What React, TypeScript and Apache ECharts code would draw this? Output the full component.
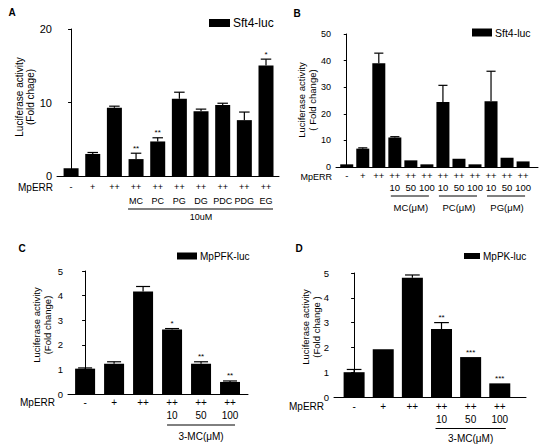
import { useEffect, useRef } from "react";
import * as echarts from "echarts";

const FONT = "'Liberation Sans', Arial, Helvetica, sans-serif";

// ---------- Panel A : Sft4-luc ----------
const A_ROW1 = ["-", "+", "++", "++", "++", "++", "++", "++", "++", "++"];
const A_ROW2 = ["", "", "", "MC", "PC", "PG", "DG", "PDC", "PDG", "EG"];
const A_VALUES = [1.05, 3.0, 9.3, 2.3, 4.7, 10.5, 8.8, 9.65, 7.6, 15.05];
const A_ERRORS = [0, 0.2, 0.2, 0.8, 0.5, 0.9, 0.3, 0.25, 1.1, 0.85];
const A_STARS = ["", "", "", "**", "**", "", "", "", "", "*"];
const A_GROUPS = [{ label: "10uM", from: 3, to: 9 }];

// ---------- Panel B : Sft4-luc ----------
const B_ROW1 = ["-", "+", "++", "++", "++", "++", "++", "++", "++", "++", "++", "++"];
const B_ROW2 = ["", "", "", "10", "50", "100", "10", "50", "100", "10", "50", "100"];
const B_VALUES = [1.0, 6.9, 39.0, 11.1, 2.5, 1.0, 24.4, 3.1, 1.0, 24.7, 3.5, 2.1];
const B_ERRORS = [0, 0.3, 3.8, 0.3, 0, 0, 6.3, 0, 0, 11.3, 0, 0];
const B_STARS = ["", "", "", "", "", "", "", "", "", "", "", ""];
const B_GROUPS = [
  { label: "MC(\u03bcM)", from: 3, to: 5 },
  { label: "PC(\u03bcM)", from: 6, to: 8 },
  { label: "PG(\u03bcM)", from: 9, to: 11 },
];

// ---------- Panel C : MpPFK-luc ----------
const C_ROW1 = ["-", "+", "++", "++", "++", "++"];
const C_ROW2 = ["", "", "", "10", "50", "100"];
const C_VALUES = [1.03, 1.23, 4.17, 2.62, 1.23, 0.49];
const C_ERRORS = [0.03, 0.08, 0.2, 0.04, 0.08, 0.04];
const C_STARS = ["", "", "", "*", "**", "**"];
const C_GROUPS = [{ label: "3-MC(\u03bcM)", from: 3, to: 5 }];

// ---------- Panel D : MpPK-luc ----------
const D_ROW1 = ["-", "+", "++", "++", "++", "++"];
const D_ROW2 = ["", "", "", "10", "50", "100"];
const D_VALUES = [1.0, 1.93, 4.81, 2.74, 1.61, 0.55];
const D_ERRORS = [0.11, 0, 0.11, 0.26, 0, 0];
const D_STARS = ["", "", "", "**", "***", "***"];
const D_GROUPS = [{ label: "3-MC(\u03bcM)", from: 3, to: 5 }];

type Group = { label: string; from: number; to: number };
type Panel = {
  letter: string;
  legendName: string;
  yTitle: string;
  yMax: number;
  yInterval: number;
  row1: string[];
  row2: string[];
  values: number[];
  errors: number[];
  stars: string[];
  groups: Group[];
  grid: { left: number; top: number; width: number; height: number };
  xMin: number;
  xMax: number;
  barWidth: number;
  tickFont: number;
  rowFont: number;
  legendFont: number;
  titleFont: number;
  offRow1: number;
  offRow2: number;
  offLine: number;
  offGroup: number;
  padL: number;
  padR: number;
  mpErr: { x: number; y: number; size: number };
  legendPos: { left: number; top: number; w: number; h: number };
  titlePos: { x: number; y: number };
  letterPos: { x: number; y: number };
};

const PANELS: Panel[] = [
  {
    letter: "A", legendName: "Sft4-luc", yTitle: "Luciferase activity\n(Fold chage)",
    yMax: 20, yInterval: 10,
    row1: A_ROW1, row2: A_ROW2, values: A_VALUES, errors: A_ERRORS, stars: A_STARS, groups: A_GROUPS,
    grid: { left: 57, top: 29, width: 222, height: 147 },
    xMin: -0.65, xMax: 9.6, barWidth: 15,
    tickFont: 11, rowFont: 9, legendFont: 12, titleFont: 10,
    offRow1: 11, offRow2: 24.5, offLine: 33, offGroup: 40.5, padL: 8, padR: 7,
    mpErr: { x: 53, y: 187, size: 10 },
    legendPos: { left: 209, top: 17, w: 21, h: 8 },
    titlePos: { x: 25, y: 97 },
    letterPos: { x: 12, y: 12 },
  },
  {
    letter: "B", legendName: "Sft4-luc", yTitle: "Luciferase activity\n( Fold change)",
    yMax: 50, yInterval: 10,
    row1: B_ROW1, row2: B_ROW2, values: B_VALUES, errors: B_ERRORS, stars: B_STARS, groups: B_GROUPS,
    grid: { left: 336, top: 34, width: 202, height: 133 },
    xMin: -0.67, xMax: 11.93, barWidth: 13,
    tickFont: 9, rowFont: 9.5, legendFont: 10.5, titleFont: 9.5,
    offRow1: 8.5, offRow2: 20, offLine: 29, offGroup: 40, padL: 4, padR: 2,
    mpErr: { x: 332, y: 176.5, size: 9 },
    legendPos: { left: 472, top: 27, w: 20, h: 8 },
    titlePos: { x: 307, y: 100 },
    letterPos: { x: 297, y: 13 },
  },
  {
    letter: "C", legendName: "MpPFK-luc", yTitle: "Luciferase activity\n(Fold change)",
    yMax: 5, yInterval: 1,
    row1: C_ROW1, row2: C_ROW2, values: C_VALUES, errors: C_ERRORS, stars: C_STARS, groups: C_GROUPS,
    grid: { left: 68, top: 271, width: 180, height: 123 },
    xMin: -0.59, xMax: 5.62, barWidth: 20,
    tickFont: 9.5, rowFont: 10, legendFont: 10, titleFont: 9.5,
    offRow1: 8.5, offRow2: 21, offLine: 31, offGroup: 42, padL: 5, padR: 5,
    mpErr: { x: 55, y: 402, size: 10 },
    legendPos: { left: 177, top: 251, w: 20, h: 7 },
    titlePos: { x: 42, y: 325 },
    letterPos: { x: 22, y: 248 },
  },
  {
    letter: "D", legendName: "MpPK-luc", yTitle: "Luciferase activity\n(Fold change )",
    yMax: 5, yInterval: 1,
    row1: D_ROW1, row2: D_ROW2, values: D_VALUES, errors: D_ERRORS, stars: D_STARS, groups: D_GROUPS,
    grid: { left: 334, top: 273, width: 192, height: 124 },
    xMin: -0.69, xMax: 5.9, barWidth: 21,
    tickFont: 9.5, rowFont: 10, legendFont: 10, titleFont: 9.5,
    offRow1: 9.5, offRow2: 22, offLine: 31.5, offGroup: 41, padL: 6, padR: 6,
    mpErr: { x: 324, y: 406, size: 10 },
    legendPos: { left: 464, top: 251, w: 16, h: 6 },
    titlePos: { x: 311, y: 327 },
    letterPos: { x: 299, y: 248 },
  },
];

function txt(text: string, x: number, y: number, size: number, align = "center", vAlign = "middle", weight = "normal") {
  return {
    type: "text",
    x,
    y,
    silent: true,
    style: {
      text,
      fill: "#000",
      fontSize: size,
      fontFamily: FONT,
      fontWeight: weight,
      align,
      textAlign: align,
      verticalAlign: vAlign,
      textVerticalAlign: vAlign,
    },
  };
}

function buildOption() {
  const grids: any[] = [];
  const xAxes: any[] = [];
  const yAxes: any[] = [];
  const series: any[] = [];
  const legends: any[] = [];
  const graphics: any[] = [];

  PANELS.forEach((p, k) => {
    grids.push({ ...p.grid, containLabel: false });
    xAxes.push({
      type: "value",
      gridIndex: k,
      min: p.xMin,
      max: p.xMax,
      axisLine: { show: true, onZero: true, lineStyle: { color: "#000", width: 1 } },
      axisTick: { show: false },
      axisLabel: { show: false },
      splitLine: { show: false },
    });
    yAxes.push({
      type: "value",
      gridIndex: k,
      min: 0,
      max: p.yMax,
      interval: p.yInterval,
      axisLine: { show: true, lineStyle: { color: "#000", width: 1 } },
      axisTick: { show: true, length: 3, lineStyle: { color: "#000" } },
      axisLabel: { color: "#000", fontSize: p.tickFont, fontFamily: FONT, margin: 5 },
      splitLine: { show: false },
    });

    series.push({
      type: "bar",
      name: p.legendName,
      xAxisIndex: k,
      yAxisIndex: k,
      barWidth: p.barWidth,
      itemStyle: { color: "#000" },
      data: p.values.map((v, i) => [i, v]),
    });

    // error bars + significance stars
    const stars = p.stars;
    const cap = p.barWidth * 0.35;
    series.push({
      type: "custom",
      xAxisIndex: k,
      yAxisIndex: k,
      clip: false,
      silent: true,
      encode: { x: 0, y: 1 },
      data: p.values.map((v, i) => [i, v, p.errors[i]]),
      renderItem: (params: any, api: any) => {
        const i = params.dataIndex;
        const x = api.value(0);
        const v = api.value(1);
        const e = api.value(2);
        const base = api.coord([x, v]);
        const top = api.coord([x, v + e]);
        const children: any[] = [];
        if (e > 0) {
          children.push({
            type: "line",
            shape: { x1: base[0], y1: base[1], x2: top[0], y2: top[1] },
            style: { stroke: "#000", lineWidth: 1.2 },
          });
          children.push({
            type: "line",
            shape: { x1: top[0] - cap, y1: top[1], x2: top[0] + cap, y2: top[1] },
            style: { stroke: "#000", lineWidth: 1.2 },
          });
        }
        if (stars[i]) {
          children.push(txt(stars[i], top[0], top[1] - 1, 8, "center", "bottom"));
        }
        return { type: "group", children };
      },
    });

    // category labels below axis
    const row1 = p.row1;
    const row2 = p.row2;
    series.push({
      type: "custom",
      xAxisIndex: k,
      yAxisIndex: k,
      clip: false,
      silent: true,
      encode: { x: 0, y: 1 },
      data: row1.map((_, i) => [i, 0]),
      renderItem: (params: any, api: any) => {
        const i = params.dataIndex;
        const pt = api.coord([api.value(0), 0]);
        const children: any[] = [txt(row1[i], pt[0], pt[1] + p.offRow1, p.rowFont)];
        if (row2[i]) children.push(txt(row2[i], pt[0], pt[1] + p.offRow2, p.rowFont));
        return { type: "group", children };
      },
    });

    // group underlines and labels
    const groups = p.groups;
    series.push({
      type: "custom",
      xAxisIndex: k,
      yAxisIndex: k,
      clip: false,
      silent: true,
      encode: { x: [0, 1], y: 2 },
      data: groups.map((g) => [g.from, g.to, 0]),
      renderItem: (params: any, api: any) => {
        const g = groups[params.dataIndex];
        const a = api.coord([api.value(0), 0]);
        const b = api.coord([api.value(1), 0]);
        return {
          type: "group",
          children: [
            {
              type: "line",
              shape: { x1: a[0] - p.padL, y1: a[1] + p.offLine, x2: b[0] + p.padR, y2: b[1] + p.offLine },
              style: { stroke: "#000", lineWidth: 1 },
            },
            txt(g.label, (a[0] + b[0]) / 2, a[1] + p.offGroup, p.rowFont),
          ],
        };
      },
    });

    legends.push({
      data: [p.legendName],
      left: p.legendPos.left,
      top: p.legendPos.top,
      padding: 0,
      icon: "rect",
      itemWidth: p.legendPos.w,
      itemHeight: p.legendPos.h,
      itemGap: 4,
      selectedMode: false,
      inactiveColor: "#000",
      textStyle: { color: "#000", fontSize: p.legendFont, fontFamily: FONT, padding: [0, 0, 0, -2] },
    });

    graphics.push(txt("MpERR", p.mpErr.x, p.mpErr.y, p.mpErr.size, "right"));
    graphics.push(txt(p.letter, p.letterPos.x, p.letterPos.y, 10, "center", "middle", "bold"));
    graphics.push({
      type: "text",
      x: p.titlePos.x,
      y: p.titlePos.y,
      rotation: Math.PI / 2,
      silent: true,
      style: {
        text: p.yTitle,
        fill: "#000",
        fontSize: p.titleFont,
        fontFamily: FONT,
        lineHeight: p.titleFont + 1,
        align: "center",
        textAlign: "center",
        verticalAlign: "middle",
        textVerticalAlign: "middle",
      },
    });
  });

  return {
    animation: false,
    backgroundColor: "#fff",
    grid: grids,
    xAxis: xAxes,
    yAxis: yAxes,
    legend: legends,
    series,
    graphic: graphics,
  };
}

export default function App() {
  const ref = useRef<HTMLDivElement>(null);
  useEffect(() => {
    if (!ref.current) return;
    const chart = echarts.init(ref.current, undefined, { renderer: "svg" });
    chart.setOption(buildOption() as any);
    return () => chart.dispose();
  }, []);
  return (
    <div
      ref={ref}
      style={{ position: "fixed", left: 0, top: 0, width: 559, height: 448, background: "#fff" }}
    />
  );
}
